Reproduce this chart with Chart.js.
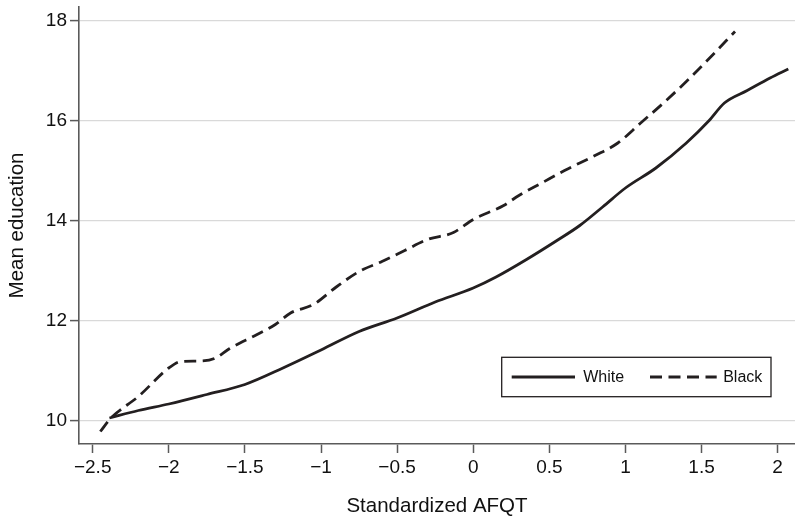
<!DOCTYPE html>
<html lang="en">
<head>
  <meta charset="UTF-8" />
  <title>Mean education by standardized AFQT</title>
  <script src="https://cdn.jsdelivr.net/npm/chart.js"></script>
  <style>
    html, body { margin: 0; padding: 0; background: #fff; }
    #wrap { width: 795px; height: 519px; }
  </style>
</head>
<body>
  <div id="wrap"><canvas id="chart" width="795" height="519"></canvas></div>

  <script>
    // Series values
    const whiteX = [-2.39, -2.2, -2.0, -1.75, -1.5, -1.25, -1.0, -0.75, -0.5, -0.25, 0.0, 0.15, 0.35, 0.55, 0.7, 0.85, 1.0, 1.2, 1.4, 1.55, 1.65, 1.8, 1.95, 2.07];
    const whiteY = [10.05, 10.2, 10.33, 10.52, 10.72, 11.05, 11.41, 11.78, 12.05, 12.37, 12.65, 12.87, 13.22, 13.6, 13.9, 14.27, 14.65, 15.05, 15.55, 16.0, 16.35, 16.6, 16.85, 17.03];

    const blackX = [-2.45, -2.38, -2.2, -2.0, -1.92, -1.8, -1.7, -1.6, -1.42, -1.3, -1.2, -1.05, -0.9, -0.75, -0.6, -0.45, -0.3, -0.13, 0.0, 0.2, 0.3, 0.45, 0.6, 0.8, 0.95, 1.1, 1.25, 1.4, 1.55, 1.72];
    const blackY = [9.78, 10.05, 10.48, 11.05, 11.18, 11.19, 11.24, 11.44, 11.72, 11.92, 12.15, 12.32, 12.67, 12.98, 13.18, 13.4, 13.62, 13.76, 14.02, 14.3, 14.5, 14.75, 15.0, 15.3, 15.55, 15.95, 16.35, 16.78, 17.24, 17.78];

    const seriesNames = ['White', 'Black'];
    const xTicks = [-2.5, -2, -1.5, -1, -0.5, 0, 0.5, 1, 1.5, 2];
    const yTicks = [10, 12, 14, 16, 18];

    const ink = '#231f20';
    const axisGray = '#5a5a5a';
    const fontFamily = '"Liberation Sans", Arial, Helvetica, sans-serif';

    const toPoints = (xs, ys) => xs.map((x, i) => ({ x: x, y: ys[i] }));
    const fmt = v => String(v).replace('-', '\u2212');

    // Legend box drawn inside the plot, Stata style
    const boxLegend = {
      id: 'boxLegend',
      afterDraw(chart) {
        const ca = chart.chartArea;
        const ctx = chart.ctx;
        const left = ca.left + 422.7, top = ca.top + 350.3, w = 269.3, h = 39.4;
        const midY = top + h / 2;
        ctx.save();
        ctx.fillStyle = '#fff';
        ctx.fillRect(left, top, w, h);
        ctx.strokeStyle = ink;
        ctx.lineWidth = 1.3;
        ctx.strokeRect(left, top, w, h);

        ctx.font = '16px ' + fontFamily;
        ctx.fillStyle = '#111';
        ctx.textBaseline = 'middle';
        ctx.lineWidth = 2.8;

        // White (solid)
        ctx.setLineDash([]);
        ctx.beginPath();
        ctx.moveTo(left + 10, midY);
        ctx.lineTo(left + 73.3, midY);
        ctx.stroke();
        ctx.fillText(seriesNames[0], left + 81.5, midY + 0.5);

        // Black (dashed)
        ctx.setLineDash([12, 6.5]);
        ctx.beginPath();
        ctx.moveTo(left + 148.3, midY);
        ctx.lineTo(left + 215, midY);
        ctx.stroke();
        ctx.setLineDash([]);
        ctx.fillText(seriesNames[1], left + 221.5, midY + 0.5);
        ctx.restore();
      }
    };

    new Chart(document.getElementById('chart').getContext('2d'), {
      type: 'line',
      data: {
        datasets: [
          {
            label: seriesNames[0],
            data: toPoints(whiteX, whiteY),
            borderColor: ink,
            borderWidth: 2.8,
            pointRadius: 0,
            fill: false,
            cubicInterpolationMode: 'monotone'
          },
          {
            label: seriesNames[1],
            data: toPoints(blackX, blackY),
            borderColor: ink,
            borderWidth: 2.8,
            borderDash: [12, 6.5],
            pointRadius: 0,
            fill: false,
            cubicInterpolationMode: 'monotone'
          }
        ]
      },
      options: {
        responsive: false,
        animation: false,
        layout: { padding: 0 },
        plugins: {
          legend: { display: false },
          tooltip: { enabled: false }
        },
        scales: {
          x: {
            type: 'linear',
            min: -2.59,
            max: 2.114,
            afterFit: s => { s.height = 75; s.paddingLeft = 0; s.paddingRight = 0; },
            afterBuildTicks: s => { s.ticks = xTicks.map(v => ({ value: v })); },
            grid: {
              drawOnChartArea: false,
              drawTicks: true,
              tickLength: 9,
              tickColor: axisGray,
              tickWidth: 1.5
            },
            border: { display: true, color: axisGray, width: 1.6 },
            ticks: {
              padding: 3,
              color: '#111',
              font: { family: fontFamily, size: 19 },
              maxRotation: 0,
              callback: v => fmt(v)
            },
            title: {
              display: true,
              text: 'Standardized AFQT',
              color: '#111',
              font: { family: fontFamily, size: 20.5 },
              padding: { top: 1, bottom: 0 }
            }
          },
          y: {
            type: 'linear',
            min: 9.53,
            max: 18.27,
            afterFit: s => { s.width = 79; s.paddingTop = 7; s.paddingBottom = 0; },
            afterBuildTicks: s => { s.ticks = yTicks.map(v => ({ value: v })); },
            grid: {
              color: '#d9d9d9',
              lineWidth: 1.2,
              drawTicks: true,
              tickLength: 9,
              tickColor: axisGray,
              tickWidth: 1.5
            },
            border: { display: true, color: axisGray, width: 1.6 },
            ticks: {
              padding: 3,
              color: '#111',
              font: { family: fontFamily, size: 19 },
              callback: v => fmt(v)
            },
            title: {
              display: true,
              text: 'Mean education',
              color: '#111',
              font: { family: fontFamily, size: 20.5 },
              padding: { top: 5, bottom: 0 }
            }
          }
        }
      },
      plugins: [boxLegend]
    });
  </script>
</body>
</html>
